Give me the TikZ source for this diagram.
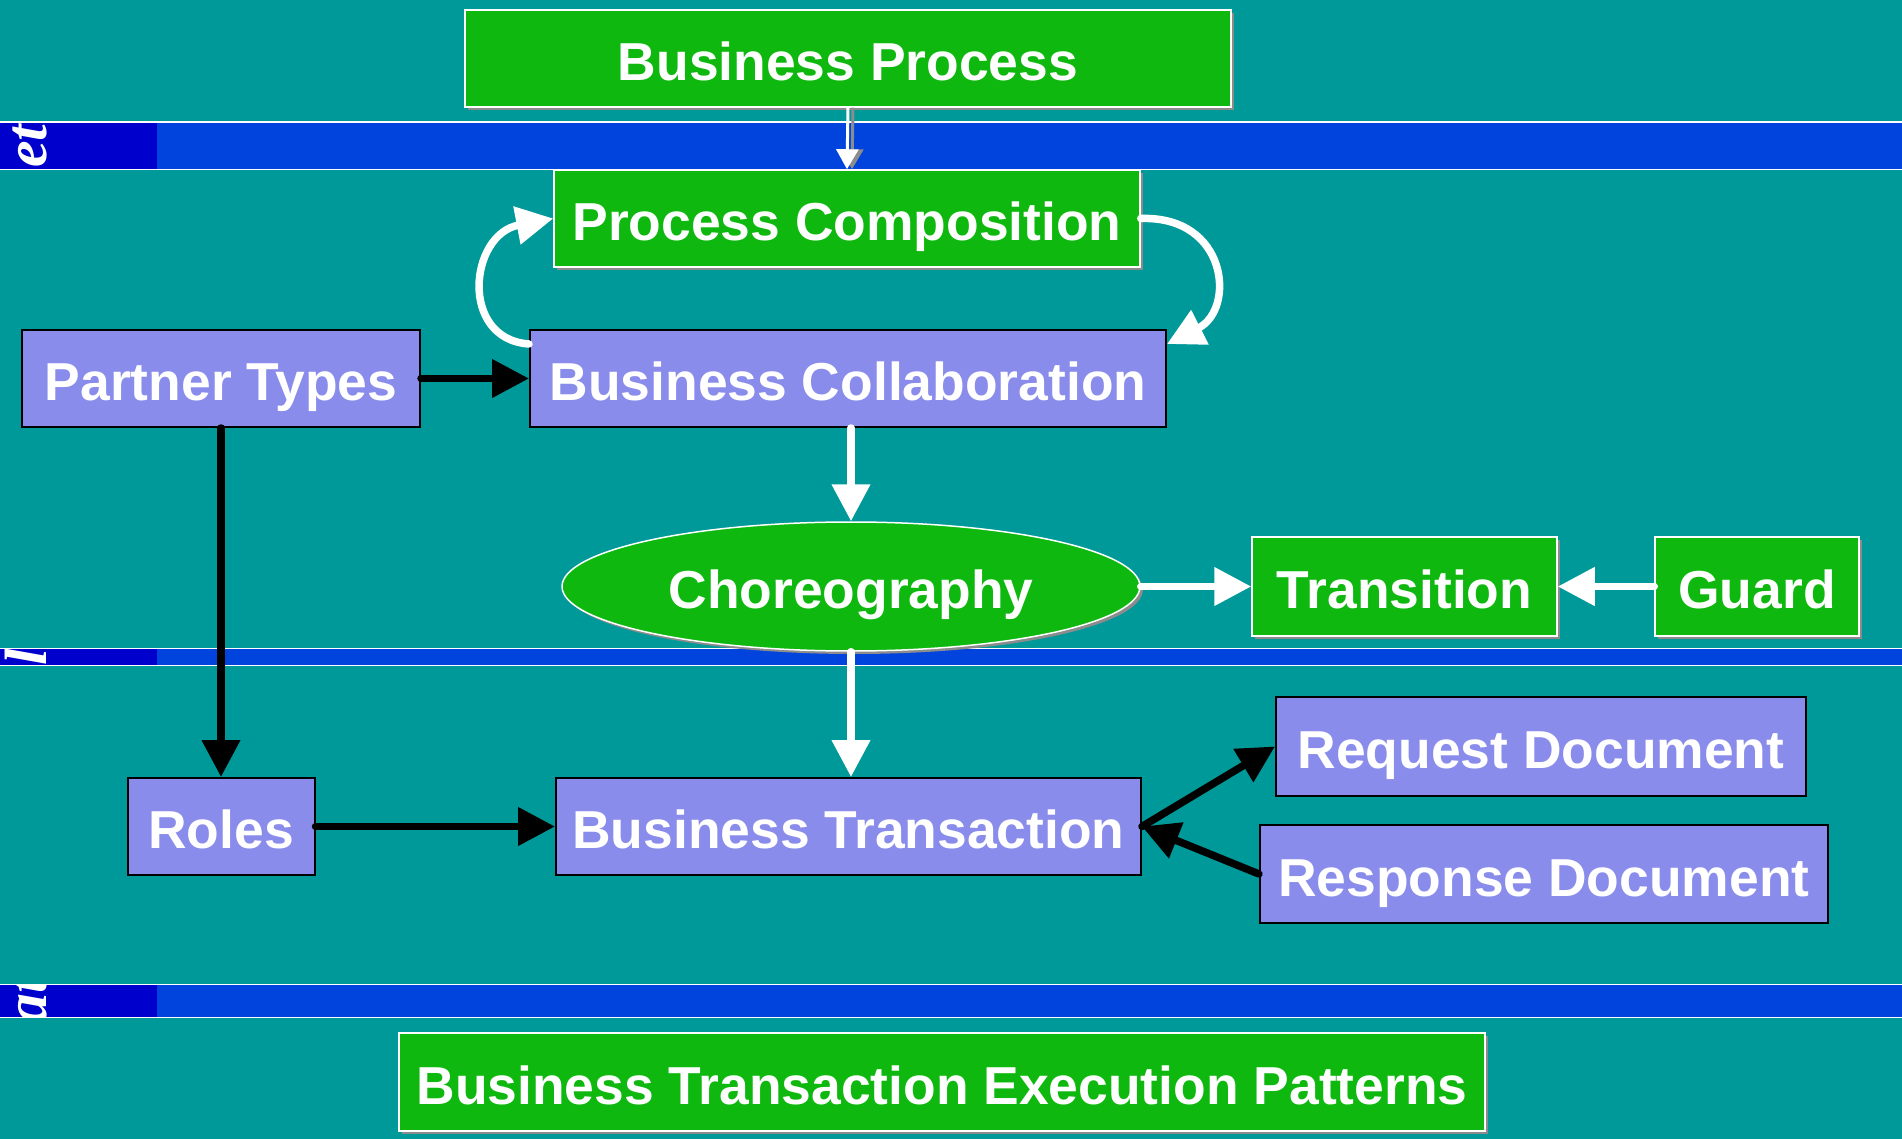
\documentclass[tikz,border=0pt]{standalone}
\usepackage{fontspec}
\setmainfont{Liberation Sans}
\newfontfamily\bandfont{Liberation Serif}
\usetikzlibrary{shapes.geometric, arrows.meta, shadows, positioning}
\definecolor{bgteal}{HTML}{009999}
\definecolor{bandblue}{HTML}{0044DD}
\definecolor{banddark}{HTML}{0000CC}
\definecolor{gfill}{HTML}{0EB80E}
\definecolor{pfill}{HTML}{8A8CEC}
\newcommand{\boxfont}{\fontsize{15.2}{18}\selectfont\bfseries}
\newcommand{\bandtext}{\bandfont\fontsize{17}{17}\selectfont\bfseries\itshape}

\begin{document}
\begin{tikzpicture}[x=0.1mm, y=-0.1mm,
  grn/.style={draw=white, line width=0.15mm, fill=gfill, text=white, font=\boxfont,
    inner sep=0pt, text height=4.4mm, text depth=0mm, minimum height=9.7mm,
    drop shadow={shadow xshift=0.3mm, shadow yshift=-0.3mm, fill=black!45, opacity=1}},
  lav/.style={draw=black, line width=0.2mm, fill=pfill, text=white, font=\boxfont,
    inner sep=0pt, text height=4.4mm, text depth=0mm, minimum height=9.7mm},
  warr/.style={draw=white, line width=0.75mm, line cap=round,
    -{Triangle[length=3.7mm, width=3.7mm]}},
  barr/.style={warr, draw=black}]

% background and bands
\fill[bgteal] (0,0) rectangle (1902,1139);
\fill[white] (0,121) rectangle (1902,170);
\fill[bandblue] (0,122.5) rectangle (1902,168.5);
\fill[banddark] (0,122.5) rectangle (157,168.5);
\fill[white] (0,647.5) rectangle (1902,666);
\fill[bandblue] (0,649) rectangle (1902,664.5);
\fill[banddark] (0,649) rectangle (157,664.5);
\fill[white] (0,983.5) rectangle (1902,1018);
\fill[bandblue] (0,985) rectangle (1902,1016.5);
\fill[banddark] (0,985) rectangle (157,1016.5);

% clipped band labels
\begin{scope}
\clip (0,122.5) rectangle (157,168.5);
\node[rotate=90, anchor=base, text=white, font=\bandtext] at (46,146) {et};
\end{scope}
\begin{scope}
\clip (0,649) rectangle (157,664.5);
\node[rotate=90, anchor=base, text=white, font=\bandtext] at (46,657) {l};
\end{scope}
\begin{scope}
\clip (0,985) rectangle (157,1016.5);
\node[rotate=90, anchor=base, text=white, font=\bandtext] at (46,1000) {at};
\end{scope}

% nodes
\node[grn, minimum width=76.6mm] (bp) at (848,58.5) {Business Process};
\node[grn, minimum width=58.6mm] (pc) at (847,218.5) {Process Composition};
\node[lav, minimum width=39.8mm] (pt) at (221,378.5) {Partner Types};
\node[lav, minimum width=63.6mm] (bc) at (848,378.5) {Business Collaboration};
\node[grn, ellipse, minimum width=57.8mm, minimum height=12.9mm] (ch) at (851,586.5) {Choreography};
\node[grn, minimum width=30.5mm, minimum height=9.9mm] (tr) at (1404.5,586.5) {Transition};
\node[grn, minimum width=20.4mm, minimum height=9.9mm] (gd) at (1757,586.5) {Guard};
\node[lav, minimum width=53mm, minimum height=9.9mm] (rq) at (1541,746.5) {Request Document};
\node[lav, minimum width=18.7mm] (ro) at (221,826.5) {Roles};
\node[lav, minimum width=58.5mm] (bt) at (848.5,826.5) {Business Transaction};
\node[lav, minimum width=56.8mm, minimum height=9.8mm] (rs) at (1544,874) {Response Document};
\node[grn, minimum width=108.6mm, minimum height=9.8mm] (ep) at (942,1082) {Business Transaction Execution Patterns};

% connectors
\draw[black!45, line width=0.3mm, -{Triangle[length=2mm, width=2.2mm]}]
  ([xshift=0.5mm]bp.south) -- ([xshift=0.5mm]pc.north);
\draw[white, line width=0.3mm, -{Triangle[length=2mm, width=2.2mm]}]
  (bp.south) -- (pc.north);
\draw[warr] ([yshift=-1.5mm]bc.north west) .. controls +(-70,-5) and +(-84,16) .. (pc.west);
\draw[warr] (pc.east) .. controls +(87,-3) and +(69,-35) .. ([yshift=-1.5mm]bc.north east);
\draw[barr] (pt) -- (bc);
\draw[barr] (pt) -- (ro);
\draw[barr] (ro) -- (bt);
\draw[warr] (bc.south -| ch.north) -- (ch.north);
\draw[warr] (ch.south) -- (bt.north -| ch.south);
\draw[warr] (ch) -- (tr);
\draw[warr] (gd) -- (tr);
\draw[barr] (bt.east) -- (rq.west);
\draw[barr] (rs.west) -- (bt.east);
\end{tikzpicture}
\end{document}
